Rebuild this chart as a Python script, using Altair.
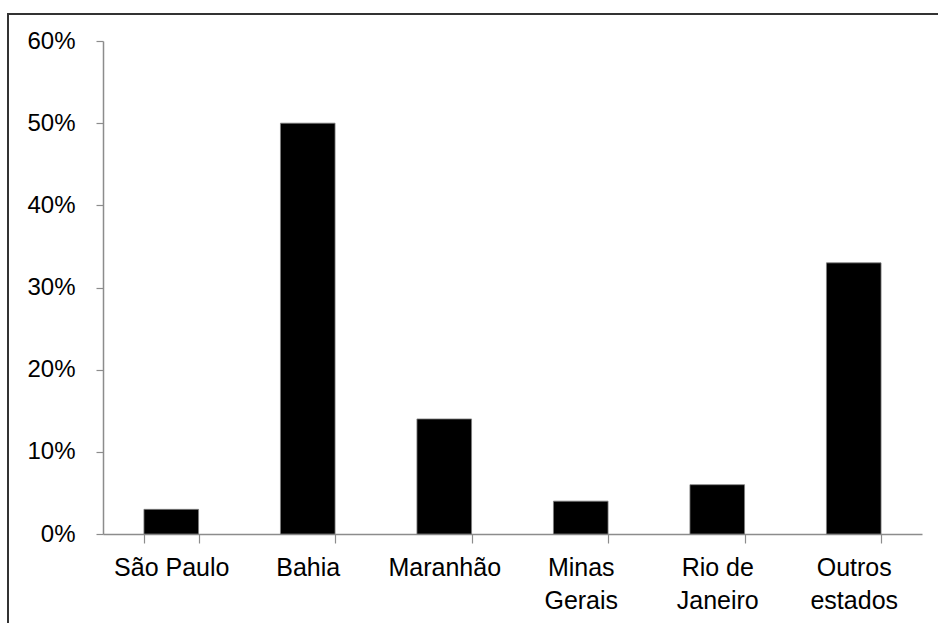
import altair as alt
import pandas as pd

categories = ["São Paulo", "Bahia", "Maranhão", "Minas\nGerais", "Rio de\nJaneiro", "Outros\nestados"]
values = [0.03, 0.50, 0.14, 0.04, 0.06, 0.33]
y_ticks = [0, 0.1, 0.2, 0.3, 0.4, 0.5, 0.6]
title_text = "Entrevistados, por unidade da federação de nascimento – 2010"

df = pd.DataFrame({"estado": categories, "pct": values})

W, H = 819, 493
FONT = "Liberation Sans"

bars = alt.Chart(df).mark_bar(color="black", stroke="#7f7f7f", strokeWidth=0.8).encode(
    x=alt.X("estado:N", sort=categories,
            scale=alt.Scale(paddingInner=0.6, paddingOuter=0.3),
            axis=alt.Axis(title=None, labelAngle=0, tickBand="extent",
                          labelExpr="isValid(datum.value) ? split(datum.value, '\\n') : ''",
                          labelFont=FONT, labelFontSize=25, labelColor="black",
                          labelLineHeight=33, labelPadding=12,
                          domainColor="#8c8c8c", tickColor="#8c8c8c",
                          tickSize=9, domainWidth=1.5, tickWidth=1.2)),
    y=alt.Y("pct:Q", scale=alt.Scale(domain=[0, 0.6], nice=False),
            axis=alt.Axis(title=None, values=y_ticks, format=".0%", grid=False,
                          labelFont=FONT, labelFontSize=24, labelColor="black",
                          labelPadding=21, tickSize=7,
                          domainColor="#8c8c8c", tickColor="#8c8c8c",
                          domainWidth=1.5, tickWidth=1.2)),
)

frame = alt.Chart(df).mark_rect(fill=None, stroke="#333333", strokeWidth=2).encode(
    x=alt.value(-95), x2=alt.value(W + 100),
    y=alt.value(-27), y2=alt.value(H + 120),
)

chart = alt.layer(frame, bars).properties(
    width=W, height=H,
    background="white",
    padding={"left": 103, "top": 41, "right": 16, "bottom": 89},
    autosize=alt.AutoSizeParams(type="none"),
    title=alt.TitleParams(title_text, font=FONT, fontSize=22, fontWeight="normal",
                          color="black", anchor="middle", frame="group",
                          baseline="alphabetic", offset=40, dx=-20),
).configure_view(strokeWidth=0, stroke="transparent")

chart.save("out.html", embed_options={"renderer": "svg", "actions": False})
